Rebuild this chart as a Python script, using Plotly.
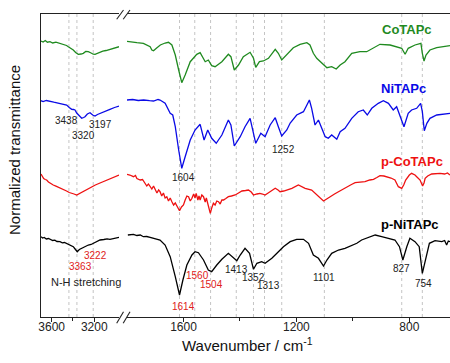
import plotly.graph_objects as go

# ---------------- data (wavenumber cm-1, normalized transmittance, stacked) -------------
GREEN_L = [(3700,276),(3680,275),(3660,276.5),(3640,274.8),(3616,275.3),(3590,274),(3560,274.8),(3522,273.7),
           (3490,272.5),(3460,271.5),(3444,270.3),(3420,269),(3397,267),(3375,264.5),(3350,262.7),(3325,263),
           (3303,263.7),(3280,265.5),(3256,265.3),(3230,264),(3210,262.8),(3193,262.7),(3170,263.8),(3146,264.3),
           (3120,265.8),(3090,266.5),(3053,267.7),(3020,268.5),(2990,269.6),(2968,270.3)]
GREEN_R = [(1800,275.7),(1778,274.5),(1765,274.3),(1742,273.7),(1730,272),(1718,270.3),(1712,267),(1706,266.3),
           (1697,268.5),(1688,270.3),(1682,272),(1665,274),(1653,274.7),(1641,272),(1629,262),(1617,247),
           (1606,234.3),(1594,242),(1576,255.3),(1553,262.7),(1541,264.3),(1523,255.3),(1512,257),(1500,251.3),
           (1488,250.3),(1464,255.3),(1441,262.7),(1432,260.3),(1420,247),(1405,252),(1388,260.3),(1364,264.7),
           (1352,258.7),(1344,249.7),(1331,255.3),(1317,256),(1299,258.7),(1275,267.7),(1264,263.7),(1252,257),
           (1234,262.7),(1211,269.3),(1187,272.7),(1163,274.3),(1152,272),(1140,263.7),(1128,258.7),(1110,253.7),
           (1092,249.3),(1075,250.3),(1059,248),(1045,252),(1028,255.3),(1004,263.7),(975,265.3),(951,265.3),
           (927,268.7),(904,272.7),(868,272),(845,270.3),(827,268.7),(815,262.7),(804,268.7),(780,272),
           (759,273.7),(754,263.7),(748,256),(741,262),(727,267),(703,269.3),(680,270.3),(656,271.3)]

BLUE_L = [(3700,216.3),(3680,215.5),(3650,216.5),(3616,215.3),(3580,214.8),(3550,214.2),(3522,213.7),(3490,212.8),
          (3459,212),(3435,209.5),(3412,207.7),(3395,207.5),(3381,207),(3365,204),(3350,202),(3318,198.7),
          (3300,199.5),(3287,200.3),(3265,203),(3240,204.3),(3215,202),(3193,201),(3170,202.5),(3146,203.7),
          (3100,205.5),(3053,207.7),(3010,209.5),(2968,211)]
BLUE_R = [(1800,217),(1780,217.5),(1760,216.5),(1741,217),(1720,216.3),(1706,216),(1690,217.5),(1683,217),
          (1665,213.7),(1647,203.7),(1638,202),(1629,190.3),(1617,167),(1606,148.7),(1594,160.3),(1576,177),
          (1559,187),(1541,192.7),(1527,177),(1514,187),(1500,178.7),(1484,173.7),(1464,182),(1441,197),
          (1432,192),(1420,171),(1399,180.3),(1382,190.3),(1364,198.7),(1352,185.3),(1344,173.7),(1326,183.7),
          (1311,180.3),(1293,192),(1275,199.3),(1264,190.3),(1252,181),(1234,187),(1222,194),(1199,202),
          (1187,203.7),(1175,205.3),(1166,210.3),(1154,217),(1146,208.7),(1134,192),(1122,197),(1110,188.7),
          (1098,180.3),(1087,178.7),(1075,182),(1057,177.7),(1045,185.3),(1028,188.7),(1004,198.7),(981,205.3),
          (963,207),(949,202),(933,208.7),(910,213.7),(892,216.3),(874,213.7),(857,207),(845,210.3),(833,200.3),
          (819,190.3),(804,203.7),(792,207),(774,208.7),(760,213.7),(754,205.3),(747,186.3),(738,193.7),
          (727,198.7),(703,202),(680,203),(656,203.7)]

RED_L = [(3700,143),(3690,140.5),(3675,138.5),(3660,137.5),(3647,137),(3630,135),(3610,133.5),(3585,132),
         (3560,130.8),(3530,129.5),(3491,128),(3460,126),(3435,124.5),(3412,124),(3390,123),(3365,122),
         (3340,123.5),(3320,124.5),(3303,125.3),(3270,127.5),(3250,129),(3224,130.3),(3190,132),(3146,134),
         (3100,136),(3053,138),(3010,140),(2968,142)]
RED_R = [(1800,142.7),(1790,142),(1777,140.3),(1770,141.5),(1765,138.5),(1753,137),(1745,137.5),(1736,133.7),
         (1730,131),(1724,133),(1718,130.3),(1712,128),(1706,131),(1700,127),(1694,124),(1688,127),(1683,125.3),
         (1677,121),(1671,124),(1665,119),(1659,120.3),(1653,116),(1647,119),(1641,115.3),(1635,112),(1629,114),
         (1623,110.3),(1618,108),(1614,106.3),(1607,110),(1600,112),(1594,117),(1588,121),(1582,120.3),(1576,116),
         (1570,118.7),(1564,123),(1559,119),(1555,123.7),(1549,117),(1545,121),(1541,117),(1535,122),(1529,120.3),
         (1523,115),(1519,119),(1515,115.3),(1510,110),(1505,103.7),(1500,109),(1494,113.7),(1488,112),(1482,116),
         (1476,115.3),(1470,113),(1464,117),(1458,117),(1450,118.5),(1441,120.3),(1430,121),(1417,122),(1405,124),
         (1393,126),(1380,126.5),(1370,127),(1360,125),(1352,122),(1340,123),(1329,123.7),(1320,123),(1311,122),
         (1300,124),(1293,125.3),(1285,127),(1275,128.7),(1265,127),(1258,125.3),(1245,126),(1234,127),(1216,128.7),
         (1193,132),(1180,130),(1169,128.7),(1146,127),(1134,124),(1122,120.3),(1104,116),(1090,118.5),(1081,120.3),
         (1065,123),(1051,125.3),(1035,128),(1022,130.3),(1005,132.5),(992,134.3),(975,135),(957,135.3),(940,137),
         (927,137.7),(915,139.5),(904,141.3),(890,141),(880,140.3),(865,139),(851,137),(845,134),(839,130.3),
         (827,128.7),(820,132),(813,137),(800,142),(792,143.7),(780,142),(774,140.3),(762,137),(753,131),(748,134),
         (744,138.7),(735,141),(721,143),(705,143.5),(691,143.7),(675,143),(665,144),(656,142)]

BLACK_L = [(3700,80.3),(3685,79),(3670,79.5),(3650,78),(3630,78.5),(3616,77.7),(3590,76.5),(3570,76.8),(3550,75.5),
           (3522,75.3),(3500,74.2),(3480,74.5),(3460,73.3),(3444,73),(3420,71.5),(3397,70.3),(3380,68),(3360,65.3),
           (3340,67.5),(3318,68.7),(3290,70.5),(3256,72),(3230,72.5),(3209,73.7),(3180,75),(3146,77),(3110,77.5),
           (3080,78.2),(3053,77.7),(3020,78.5),(2990,79),(2968,79.7)]
BLACK_R = [(1797,82),(1785,82.5),(1777,82.7),(1765,81.5),(1753,82),(1742,80.3),(1730,80.5),(1718,79.7),(1700,78.5),
           (1683,77),(1665,72),(1647,60.3),(1629,40.3),(1614,22),(1602,37),(1588,52),(1570,62),(1559,65.3),
           (1547,64.3),(1529,57),(1512,47),(1500,45.3),(1482,52),(1464,57.7),(1441,63.7),(1423,59.7),(1411,56.3),
           (1399,62),(1382,68.7),(1366,63.7),(1352,47.7),(1340,53.7),(1323,55.3),(1311,53.7),(1287,58.7),(1269,63.7),
           (1246,70.3),(1222,75.3),(1199,77.7),(1175,77.7),(1157,73.7),(1140,62),(1122,58.7),(1104,51),(1092,57),
           (1075,63.7),(1051,67),(1028,68.7),(1004,72),(986,73.7),(969,77),(945,79.3),(921,82),(898,80.3),
           (874,78.7),(851,77),(835,70.3),(823,57),(809,70.3),(798,78.7),(780,75.3),(765,70.3),(754,43.7),
           (744,57),(729,73.7),(709,76.3),(685,75.3),(675,76.5),(668,72),(662,76),(656,75.3)]

SERIES = [("CoTAPc", "#1f8a1f", GREEN_L, GREEN_R),
          ("NiTAPc", "#0a0ae6", BLUE_L, BLUE_R),
          ("p-CoTAPc", "#ee1111", RED_L, RED_R),
          ("p-NiTAPc", "#000000", BLACK_L, BLACK_R)]

SERIES_LABEL_POS = {"CoTAPc": (808, 288), "NiTAPc": (819, 229), "p-CoTAPc": (790, 156), "p-NiTAPc": (796, 93)}

DOTTED_L = [3438, 3363, 3210]
DOTTED_R = [1614, 1560, 1504, 1413, 1352, 1313, 1252, 1101, 827, 754]

# peak labels: (text, wavenumber, y, color, panel)
PEAK_LABELS = [("3438", 3461, 197, "#222", "x"), ("3320", 3297, 182, "#222", "x"), ("3197", 3146, 193, "#222", "x"),
               ("3222", 3189, 62, "#e02020", "x"), ("3363", 3328, 51, "#e02020", "x"),
               ("N-H stretching", 3281, 35.3, "#222", "x"),
               ("1604", 1601, 139.7, "#222", "x2"), ("1252", 1244, 167.3, "#222", "x2"),
               ("1614", 1600, 10.3, "#e02020", "x2"), ("1560", 1551, 41.3, "#e02020", "x2"),
               ("1504", 1499, 33, "#e02020", "x2"), ("1413", 1412, 48, "#222", "x2"),
               ("1352", 1351, 39.7, "#222", "x2"), ("1313", 1300, 31.3, "#222", "x2"),
               ("1101", 1102, 39.3, "#222", "x2"), ("827", 827, 48.7, "#222", "x2"), ("754", 751, 33.7, "#222", "x2")]

X_RANGE_L = [3700, 2968]
X_RANGE_R = [1800, 656]
TICKS_L, MINOR_L = [3600, 3200], [3400]
TICKS_R, MINOR_R = [1600, 1200, 800], [1400, 1000]
Y_RANGE = [0, 303]

# ---------------- figure ----------------
FONT = "Liberation Sans, Arial, sans-serif"
W, H = 450, 363
ML, MR, MT, MB = 41, 0, 14, 46
PW, PH = W - ML - MR, H - MT - MB


def px(xp):
    return (xp - ML) / PW


def py(yp):
    return (H - MB - yp) / PH


fig = go.Figure()
for name, color, left, right in SERIES:
    fig.add_trace(go.Scatter(x=[p[0] for p in left], y=[p[1] for p in left], mode="lines",
                             line=dict(color=color, width=1.3), xaxis="x", yaxis="y", showlegend=False))
    fig.add_trace(go.Scatter(x=[p[0] for p in right], y=[p[1] for p in right], mode="lines",
                             line=dict(color=color, width=1.3), xaxis="x2", yaxis="y", showlegend=False))

shapes = []
for v in DOTTED_L:
    shapes.append(dict(type="line", xref="x", yref="paper", x0=v, x1=v, y0=0, y1=1, layer="below",
                       line=dict(color="#b5b5b5", width=0.8, dash="dot")))
for v in DOTTED_R:
    shapes.append(dict(type="line", xref="x2", yref="paper", x0=v, x1=v, y0=0, y1=1, layer="below",
                       line=dict(color="#b5b5b5", width=0.8, dash="dot")))
# axis break marks
for ytop, ybot in [(311.7, 323.3), (10, 19.3)]:
    for x0 in (116.7, 123.2):
        shapes.append(dict(type="line", xref="paper", yref="paper", x0=px(x0), x1=px(x0 + 6.8),
                           y0=py(ybot), y1=py(ytop), line=dict(color="#222", width=1.1)))

ann = []
for text, xv, yv, col, ax in PEAK_LABELS:
    ann.append(dict(text=text, x=xv, y=yv, xref=ax, yref="y", showarrow=False,
                    xanchor="center", yanchor="middle",
                    font=dict(family=FONT, size=11 if text.startswith("N-H") else 10, color=col)))
for name, color, _, _ in SERIES:
    xv, yv = SERIES_LABEL_POS[name]
    ann.append(dict(text=f"<b>{name}</b>", x=xv, y=yv, xref="x2", yref="y", showarrow=False,
                    xanchor="center", yanchor="middle",
                    font=dict(family=FONT, size=13, color=color)))
ann.append(dict(text="Normalized transmittance", x=px(14), y=py(150), xref="paper", yref="paper",
                xanchor="center", yanchor="middle",
                textangle=-90, showarrow=False, font=dict(family=FONT, size=15, color="#111")))
ann.append(dict(text="Wavenumber / cm<sup>-1</sup>", x=px(248), y=py(344), xref="paper", yref="paper",
                xanchor="center", yanchor="middle",
                showarrow=False, font=dict(family=FONT, size=15, color="#111")))

axis_common = dict(showline=True, linecolor="#222", linewidth=1.2, mirror=True, ticks="outside",
                   ticklen=4, tickwidth=1.1, tickcolor="#222", showgrid=False, zeroline=False,
                   ticklabelstandoff=-6,
                   tickfont=dict(family=FONT, size=12, color="#222"))

fig.update_layout(
    width=W, height=H, margin=dict(l=ML, r=MR, t=MT, b=MB),
    paper_bgcolor="white", plot_bgcolor="white",
    xaxis=dict(domain=[0, px(119)], range=X_RANGE_L, anchor="y", tickmode="array", tickvals=TICKS_L,
               minor=dict(tickvals=MINOR_L, ticks="outside", ticklen=2.5, tickcolor="#222"), **axis_common),
    xaxis2=dict(domain=[px(127), 1], range=X_RANGE_R, anchor="y", tickmode="array", tickvals=TICKS_R,
                minor=dict(tickvals=MINOR_R, ticks="outside", ticklen=2.5, tickcolor="#222"), **axis_common),
    yaxis=dict(domain=[0, 1], range=Y_RANGE, anchor="x", showline=True, linecolor="#222", linewidth=1.2,
               ticks="", showticklabels=False, showgrid=False, zeroline=False),
    shapes=shapes, annotations=ann, showlegend=False,
)

fig.write_html("out.html")
